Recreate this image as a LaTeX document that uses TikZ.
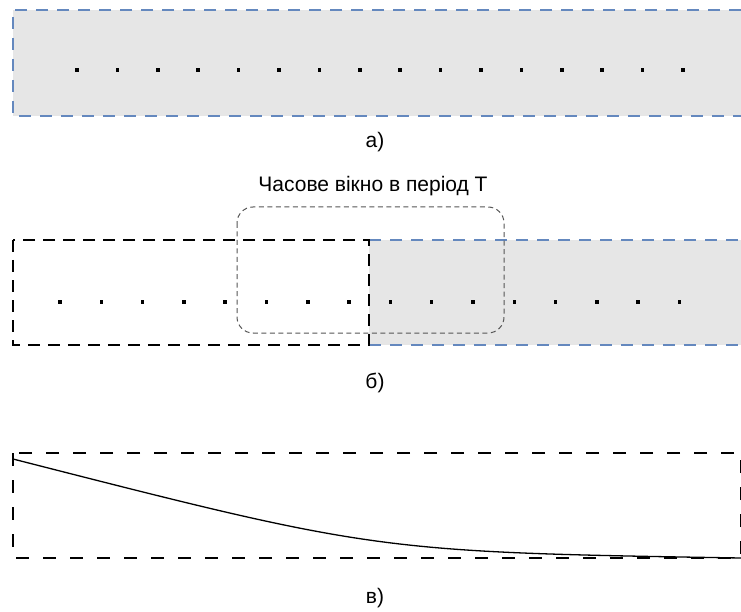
\documentclass[tikz,border=0pt]{standalone}
\usepackage{fontspec}
\setmainfont{Liberation Sans}
\usepackage{xcolor}
\definecolor{boxgray}{RGB}{230,230,230}
\definecolor{dashblue}{RGB}{100,136,190}
\definecolor{wingray}{RGB}{85,85,85}
\usepackage{tikz}
\usetikzlibrary{positioning,calc}

\begin{document}
\begin{tikzpicture}[x=1pt,y=-1pt,
  bluedash/.style={dashblue,line width=1.2pt,dash pattern=on 12pt off 9pt},
  blkdash/.style={black,line width=1.5pt,dash pattern=on 12pt off 8pt},
  lowdash/.style={black,line width=1.4pt,dash pattern=on 13pt off 14pt},
  window/.style={draw=wingray,line width=1pt,dash pattern=on 5pt off 3.5pt,rounded corners=16pt},
  dot/.style={rectangle,fill=black,inner sep=0pt,minimum size=3.5pt},
  lbl/.style={font=\fontsize{21}{24}\selectfont,inner sep=0pt}]
  \useasboundingbox (0,0) rectangle (741,612);
  % a)
  \coordinate (aNW) at (13,10); \coordinate (aNE) at (741,10);
  \coordinate (aSW) at (13,116); \coordinate (aSE) at (741,116);
  \fill[boxgray] (aNW) rectangle (aSE);
  \draw[bluedash] (aNE) -- (aNW) -- (aSW) -- (aSE);
  \foreach \i in {0,...,15}
    \node[dot] (a\i) at (77+40.4*\i,70) {};
  \node[lbl] (capa) at (375,142) {а)};
  % b)
  \node[lbl] (title) at (373,186) {Часове вікно в період Т};
  \coordinate (bNW) at (13,240); \coordinate (bMid) at (369,345);
  \coordinate (bSE) at (741,345);
  \fill[boxgray] (bMid|-bNW) rectangle (bSE);
  \draw[bluedash] (bMid|-bNW) -- (bSE|-bNW) (bMid) -- (bSE);
  \draw[blkdash] (bNW) rectangle (bMid);
  \foreach \i in {0,...,15}
    \node[dot] (b\i) at (60+41.3*\i,302) {};
  \draw[window] (237,207) rectangle (504,333);
  \node[lbl] (capb) at (375,383) {б)};
  % c)
  \coordinate (cNW) at (13,453); \coordinate (cSE) at (741,558);
  \draw[lowdash] (cNW) rectangle (cSE);
  \coordinate (cStart) at (13,459);
  \draw[line width=1.3pt] (cStart) .. controls (377,552) .. (cSE);
  \node[lbl] (capc) at (375,598) {в)};
\end{tikzpicture}
\end{document}
